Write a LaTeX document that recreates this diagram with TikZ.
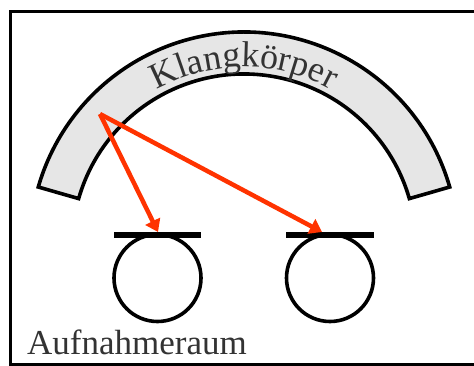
\documentclass[tikz,border=0pt]{standalone}
\usepackage{fontspec}
\setmainfont{Liberation Serif}
\usetikzlibrary{decorations.text,arrows.meta,calc}
\definecolor{arrowred}{RGB}{255,51,0}
\definecolor{bodygray}{RGB}{230,230,230}
\newfontfamily\klangfont{Liberation Serif}
\begin{document}
\begin{tikzpicture}[x=1pt,y=1pt,
  frameline/.style={line width=3pt,black},
  bodyshape/.style={fill=bodygray,draw=black,line width=3.6pt,line join=miter},
  mic/.style={circle,draw=black,line width=3.6pt,minimum size=87pt,inner sep=0pt},
  micbar/.style={line width=6pt,black},
  ray/.style={arrowred,line width=4.5pt,-{Triangle[length=12pt,width=16pt]}},
  lbl/.style={font=\fontsize{35}{40}\selectfont,inner sep=0pt,text=black!80}]
\useasboundingbox (0,0) rectangle (474,365);
% frame
\draw[frameline] (10,1) rectangle (482,353);
% sound body (arc band)
\draw[bodyshape] (244,119) ++(16:214) arc[start angle=16,end angle=164,radius=214]
  -- ($(244,119)+(164:172)$) arc[start angle=164,end angle=16,radius=172] -- cycle;
% text along arc
\path[decorate,decoration={text along path,text align=center,
  text={|\klangfont\fontsize{36}{40}\selectfont\color{black!80}|Klangkörper}}]
  (244,119) ++(150:179) arc[start angle=150,end angle=30,radius=179];
% microphones
\node[mic] (m1) at (157.5,87) {};
\node[mic] (m2) at (330,87) {};
\coordinate (b1l) at (114,130);
\coordinate (b1r) at (201,130);
\coordinate (b2l) at (286,130);
\coordinate (b2r) at (374,130);
\draw[micbar] (b1l) -- (b1r);
\draw[micbar] (b2l) -- (b2r);
% rays
\coordinate (src) at (100,251);
\coordinate (t1) at (158,133);
\coordinate (t2) at (322,133);
\draw[ray] (src) -- (t1);
\draw[ray] (src) -- (t2);
% label
\node[lbl,anchor=base west] (room) at (27,11) {Aufnahmeraum};
\end{tikzpicture}
\end{document}
